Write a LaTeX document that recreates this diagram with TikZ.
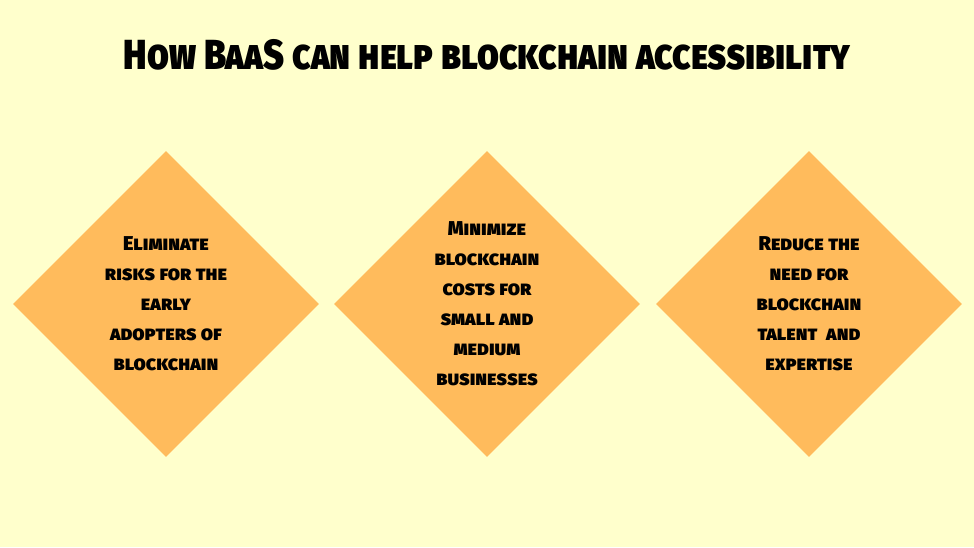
\documentclass[tikz,border=0pt]{standalone}
\usepackage{fontspec}
\setmainfont{Fira Sans}[BoldFont={Fira Sans Black}]
\usetikzlibrary{shapes.geometric}
\definecolor{bgyellow}{HTML}{FFFFCC}
\definecolor{tileorange}{HTML}{FFBB5C}
\begin{document}
\begin{tikzpicture}[x=1pt, y=-1pt,
    tile/.style={diamond, fill=tileorange, minimum width=306pt, minimum height=306pt,
      inner sep=0pt, align=center, font=\fontsize{20}{30}\selectfont\bfseries\scshape}]
  % Background and page size
  \fill[bgyellow] (0,0) rectangle (974,547);
  \useasboundingbox (0,0) rectangle (974,547);
  % Title
  \node[font=\fontsize{42}{48}\selectfont\bfseries\scshape, xscale=0.85, transform shape]
    (title) at (487,55) {How BaaS can help blockchain accessibility};
  % The three diamonds
  \foreach \x/\name/\txt in {
      166/risk/{Eliminate\\risks for the\\early\\adopters of\\blockchain},
      487/cost/{Minimize\\blockchain\\costs for\\small and\\medium\\businesses},
      809/talent/{Reduce the\\need for\\blockchain\\talent\ \ and\\expertise}} {
    \node[tile] (\name) at (\x,304) {\txt};
  }
\end{tikzpicture}
\end{document}
